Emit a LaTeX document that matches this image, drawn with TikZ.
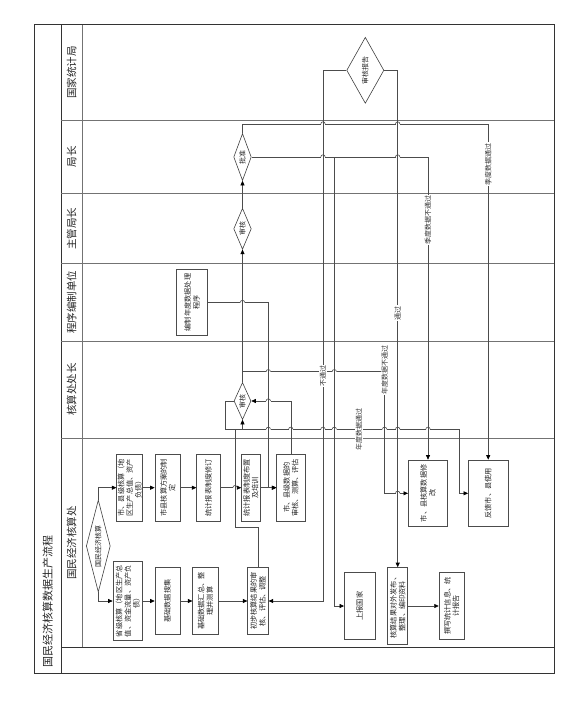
\documentclass[tikz,border=0pt]{standalone}
\usepackage{fontspec}
\setmainfont{Noto Sans CJK SC}
\usepackage{graphicx}
\usetikzlibrary{shapes.geometric,arrows.meta}
\XeTeXlinebreaklocale "zh"
\newcommand\vtxt[2]{\rotatebox{90}{\parbox{#1}{\centering #2}}}
\tikzset{
 box/.style={draw=black!70, line width=0.6pt, inner sep=0pt, fill=white, font=\fontsize{7.2}{8.6}\selectfont, text=black!85},
 dia/.style={diamond, draw=black!75, line width=0.6pt, inner sep=0pt, fill=white},
 dtext/.style={rotate=90, font=\fontsize{7}{8}\selectfont, inner sep=0pt, text=black!85},
 conn/.style={draw=black!70, line width=0.6pt},
 arr/.style={conn, -{Triangle[length=4.5pt,width=4pt,color=black]}},
 lbl/.style={rotate=90, fill=white, inner sep=0.6pt, font=\fontsize{7}{8}\selectfont, text=black!80},
 lane/.style={draw=black!55, line width=0.6pt},
 frame/.style={draw=black!80, line width=0.8pt},
 head/.style={rotate=90, inner sep=0pt, font=\fontsize{10.5}{12}\selectfont, text=black!85},
}
\begin{document}
\begin{tikzpicture}[x=1pt,y=-1pt]
\useasboundingbox (0,0) rectangle (585,701);
% frame and lanes
\draw[frame] (34.3,24.7) rectangle (554,673);
\draw[frame] (60.9,24.7) -- (60.9,673);
\draw[lane] (82.5,24.7) -- (82.5,647.3);
\foreach \yy in {120,193.7,263.3,341,438.3} \draw[lane] (60.9,\yy) -- (554,\yy);
\draw[frame] (60.9,647.3) -- (554,647.3);
% titles
\node[head, anchor=west, font=\fontsize{11}{12}\selectfont] (title) at (47.6,668) {国民经济核算数据生产流程};
\node[head] (h1) at (71.7,72.3) {国家统计局};
\node[head] (h2) at (71.7,156.9) {局长};
\node[head] (h3) at (71.7,228.5) {主管局长};
\node[head] (h4) at (71.7,302.2) {程序编制单位};
\node[head] (h5) at (71.7,389.7) {核算处处长};
\node[head] (h6) at (71.7,542.8) {国民经济核算处};
% boxes
\node[box, minimum width=26pt, minimum height=67pt] (A) at (129.7,487.7) {\vtxt{62pt}{市、县级核算（地\\区生产总值、资产\\负债）}};
\node[box, minimum width=25.7pt, minimum height=67pt] (B) at (167.8,487.7) {\vtxt{62pt}{市县核算方案的制\\定}};
\node[box, minimum width=23.3pt, minimum height=67pt] (C) at (208.3,487.7) {\vtxt{62pt}{统计报表制度修订}};
\node[box, minimum width=18.5pt, minimum height=67pt] (D) at (250.8,487.7) {\vtxt{62pt}{统计报表制度布置\\及培训}};
\node[box, minimum width=28.3pt, minimum height=67pt] (E) at (290.8,487.7) {\vtxt{62pt}{市、县级数据的\\审核、测算、评估}};
\node[box, minimum width=29.7pt, minimum height=79.3pt] (F) at (127.8,601) {\vtxt{75pt}{省级核算（地区生产总\\值、资金流量、资产负\\债）}};
\node[box, minimum width=25pt, minimum height=67pt] (G) at (167.5,601) {\vtxt{62pt}{基础数据搜集}};
\node[box, minimum width=25.6pt, minimum height=67pt] (H) at (205.5,601) {\vtxt{62pt}{基础数据汇总、整\\理并测算}};
\node[box, minimum width=20.6pt, minimum height=67pt] (I) at (258,601) {\vtxt{62pt}{初步核算结果的审\\核、评估、调整}};
\node[box, minimum width=39.4pt, minimum height=66.7pt] (J) at (428,493.3) {\vtxt{62pt}{市、县核算数据修\\改}};
\node[box, minimum width=39.7pt, minimum height=66.7pt] (K) at (488.2,493.3) {\vtxt{62pt}{反馈市、县使用}};
\node[box, minimum width=30.7pt, minimum height=66.6pt] (L) at (359.7,606) {\vtxt{62pt}{上报国家}};
\node[box, minimum width=20pt, minimum height=77pt] (M) at (397.7,606) {\vtxt{75pt}{核算结果对外发布、\\整理、编印资料}};
\node[box, minimum width=25.3pt, minimum height=66.6pt] (N) at (451.7,606) {\vtxt{62pt}{撰写统计信息、统\\计报告}};
\node[box, minimum width=31.5pt, minimum height=66.4pt] (P) at (192,302.5) {\vtxt{62pt}{编制年度数据处理\\程序}};
% diamonds
\node[dia, minimum width=24pt, minimum height=92pt] (D0) at (98.3,546) {};
\node[dtext] (D0t) at (D0) {国民经济核算};
\node[dia, minimum width=17pt, minimum height=37pt] (D1) at (242.5,401) {};
\node[dtext] (D1t) at (D1) {审核};
\node[dia, minimum width=17.6pt, minimum height=41pt] (D2) at (242.5,228.8) {};
\node[dtext] (D2t) at (D2) {审核};
\node[dia, minimum width=17.6pt, minimum height=47pt] (D3) at (242.5,157) {};
\node[dtext] (D3t) at (D3) {批准};
\node[dia, minimum width=37.2pt, minimum height=66pt] (D4) at (365.3,70.3) {};
\node[dtext] (D4t) at (D4) {审核报告};
% connectors
\draw[arr] (D0.north) |- (A.west);
\draw[arr] (D0.south) |- (F.west);
\draw[arr] (A) -- (B);
\draw[arr] (B) -- (C);
\draw[arr] (C) -- (D);
\draw[arr] (D) -- (E);
\draw[arr] (F) -- (G);
\draw[arr] (G) -- (H);
\draw[arr] (H) -- (I);
\draw[arr] (I.north) |- (235,527.7) |- (242.5,429.3) -- (D1.south);
\draw[arr] (E.north) |- (D1.east);
\draw[arr] (P.east) -| (268.3,487.7) -- (E.west);
\draw[arr] (D1.north) -- (D2.south);
\draw[arr] (D2.north) -- (D3.south);
\draw[arr] (D1.north) -- (242.5,371.7) -| (384.6,493.3) -- (J.west);
\draw[arr] (D1.west) -| (225,429.3) -| (459,493.3) -- (K.west);
\draw[arr] (D3.north) |- (488.2,124) -- (K.north);
\draw[arr] (D3.east) -| (J.north);
\draw[arr] (D3.east) -| (334.3,606) -- (L.west);
\draw[arr] (D4.west) -| (323,601) -- (I.east);
\draw[arr] (D4.east) -| (M.north);
\draw[arr] (M) -- (N);
% line jumps at crossings
\foreach \hx/\hy in {323/124,397.7/124,323/157,397.7/157,242.5/302.5,268.3/371.7,334.3/371.7,268.3/401,268.3/429.3,290.8/429.3,323/429.3,334.3/429.3,384.6/429.3,397.7/429.3,428/429.3,235/487.7,397.7/493.3}{
  \fill[white] (\hx-2.2,\hy-0.7) rectangle (\hx+2.2,\hy+0.7);
  \draw[conn] (\hx,\hy-1.2) -- (\hx,\hy+1.2);
  \draw[conn] (\hx-2.2,\hy) arc[start angle=180, end angle=0, radius=2.2pt];
}
% connector labels
\node[lbl] (l1) at (384.6,370) {年度数据不通过};
\node[lbl] (l2) at (359,429.3) {年度数据通过};
\node[lbl] (l3) at (488.2,164) {季度数据通过};
\node[lbl] (l4) at (428,220) {季度数据不通过};
\node[lbl] (l5) at (323,376) {不通过};
\node[lbl] (l6) at (397.7,313) {通过};
\end{tikzpicture}
\end{document}
